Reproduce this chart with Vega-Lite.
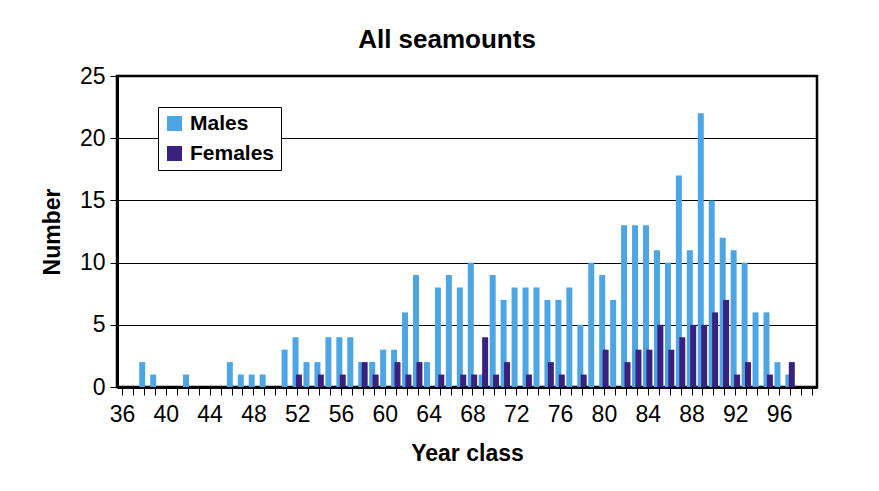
{
  "$schema": "https://vega.github.io/schema/vega-lite/v6.json",
  "autosize": "none",
  "width": 700,
  "height": 311,
  "padding": {"left": 117, "top": 76, "right": 62, "bottom": 104},
  "background": "white",
  "title": {
    "text": "All seamounts",
    "font": "Liberation Sans",
    "fontSize": 26,
    "fontWeight": "bold",
    "color": "black",
    "anchor": "middle",
    "baseline": "alphabetic",
    "offset": -9,
    "dx": -20
  },
  "data": {
    "values": [
      {"year": 36, "Males": 0, "Females": 0},
      {"year": 37, "Males": 0, "Females": 0},
      {"year": 38, "Males": 2, "Females": 0},
      {"year": 39, "Males": 1, "Females": 0},
      {"year": 40, "Males": 0, "Females": 0},
      {"year": 41, "Males": 0, "Females": 0},
      {"year": 42, "Males": 1, "Females": 0},
      {"year": 43, "Males": 0, "Females": 0},
      {"year": 44, "Males": 0, "Females": 0},
      {"year": 45, "Males": 0, "Females": 0},
      {"year": 46, "Males": 2, "Females": 0},
      {"year": 47, "Males": 1, "Females": 0},
      {"year": 48, "Males": 1, "Females": 0},
      {"year": 49, "Males": 1, "Females": 0},
      {"year": 50, "Males": 0, "Females": 0},
      {"year": 51, "Males": 3, "Females": 0},
      {"year": 52, "Males": 4, "Females": 1},
      {"year": 53, "Males": 2, "Females": 0},
      {"year": 54, "Males": 2, "Females": 1},
      {"year": 55, "Males": 4, "Females": 0},
      {"year": 56, "Males": 4, "Females": 1},
      {"year": 57, "Males": 4, "Females": 0},
      {"year": 58, "Males": 2, "Females": 2},
      {"year": 59, "Males": 2, "Females": 1},
      {"year": 60, "Males": 3, "Females": 0},
      {"year": 61, "Males": 3, "Females": 2},
      {"year": 62, "Males": 6, "Females": 1},
      {"year": 63, "Males": 9, "Females": 2},
      {"year": 64, "Males": 2, "Females": 0},
      {"year": 65, "Males": 8, "Females": 1},
      {"year": 66, "Males": 9, "Females": 0},
      {"year": 67, "Males": 8, "Females": 1},
      {"year": 68, "Males": 10, "Females": 1},
      {"year": 69, "Males": 1, "Females": 4},
      {"year": 70, "Males": 9, "Females": 1},
      {"year": 71, "Males": 7, "Females": 2},
      {"year": 72, "Males": 8, "Females": 0},
      {"year": 73, "Males": 8, "Females": 1},
      {"year": 74, "Males": 8, "Females": 0},
      {"year": 75, "Males": 7, "Females": 2},
      {"year": 76, "Males": 7, "Females": 1},
      {"year": 77, "Males": 8, "Females": 0},
      {"year": 78, "Males": 5, "Females": 1},
      {"year": 79, "Males": 10, "Females": 0},
      {"year": 80, "Males": 9, "Females": 3},
      {"year": 81, "Males": 7, "Females": 0},
      {"year": 82, "Males": 13, "Females": 2},
      {"year": 83, "Males": 13, "Females": 3},
      {"year": 84, "Males": 13, "Females": 3},
      {"year": 85, "Males": 11, "Females": 5},
      {"year": 86, "Males": 10, "Females": 3},
      {"year": 87, "Males": 17, "Females": 4},
      {"year": 88, "Males": 11, "Females": 5},
      {"year": 89, "Males": 22, "Females": 5},
      {"year": 90, "Males": 15, "Females": 6},
      {"year": 91, "Males": 12, "Females": 7},
      {"year": 92, "Males": 11, "Females": 1},
      {"year": 93, "Males": 10, "Females": 2},
      {"year": 94, "Males": 6, "Females": 0},
      {"year": 95, "Males": 6, "Females": 1},
      {"year": 96, "Males": 2, "Females": 0},
      {"year": 97, "Males": 1, "Females": 2},
      {"year": 98, "Males": 0, "Females": 0},
      {"year": 99, "Males": 0, "Females": 0}
    ]
  },
  "transform": [
    {"fold": ["Males", "Females"], "as": ["sex", "n"]}
  ],
  "encoding": {
    "x": {
      "field": "year",
      "type": "quantitative",
      "scale": {"domain": [36, 99], "nice": false, "zero": false},
      "axis": {
        "title": "Year class",
        "values": [36,37,38,39,40,41,42,43,44,45,46,47,48,49,50,51,52,53,54,55,56,57,58,59,60,61,62,63,64,65,66,67,68,69,70,71,72,73,74,75,76,77,78,79,80,81,82,83,84,85,86,87,88,89,90,91,92,93,94,95,96,97,98,99],
        "labelExpr": "datum.value % 4 === 0 ? datum.label : ''",
        "format": "d",
        "grid": false,
        "labelOverlap": false,
        "labelFlush": false,
        "labelBound": false,
        "tickSize": 8,
        "labelPadding": 8,
        "titlePadding": 16
      }
    },
    "y": {
      "field": "n",
      "type": "quantitative",
      "scale": {"domain": [0, 25], "nice": false},
      "axis": {
        "title": "Number",
        "values": [0, 5, 10, 15, 20, 25],
        "grid": true,
        "tickSize": 7,
        "labelPadding": 5,
        "titlePadding": 15
      }
    },
    "color": {
      "field": "sex",
      "type": "nominal",
      "scale": {"domain": ["Males", "Females"], "range": ["#4DA6E3", "#3A2180"]},
      "legend": {
        "title": null,
        "orient": "none",
        "legendX": 41,
        "legendY": 31,
        "direction": "vertical"
      }
    }
  },
  "layer": [
    {
      "transform": [{"filter": "datum.sex === 'Males' && datum.n > 0"}],
      "mark": {"type": "bar", "orient": "vertical", "width": 6, "xOffset": -1.7}
    },
    {
      "transform": [{"filter": "datum.sex === 'Females' && datum.n > 0"}],
      "mark": {"type": "bar", "orient": "vertical", "width": 6, "xOffset": 1.7}
    }
  ],
  "config": {
    "font": "Liberation Sans",
    "view": {"stroke": "black", "strokeWidth": 2.5},
    "axis": {
      "domainColor": "black",
      "domainWidth": 3,
      "tickColor": "black",
      "tickWidth": 1,
      "gridColor": "black",
      "gridWidth": 1,
      "gridOpacity": 1,
      "labelFont": "Liberation Sans",
      "labelFontSize": 23,
      "labelColor": "black",
      "titleFont": "Liberation Sans",
      "titleFontSize": 23,
      "titleFontWeight": "bold",
      "titleColor": "black"
    },
    "legend": {
      "strokeColor": "black",
      "fillColor": "white",
      "padding": 6,
      "symbolType": "square",
      "symbolSize": 225,
      "symbolStrokeWidth": 0,
      "symbolOpacity": 1,
      "labelFont": "Liberation Sans",
      "labelFontSize": 21,
      "labelFontWeight": "bold",
      "labelColor": "black",
      "labelOffset": 5,
      "rowPadding": 8,
      "cornerRadius": 0
    }
  }
}
